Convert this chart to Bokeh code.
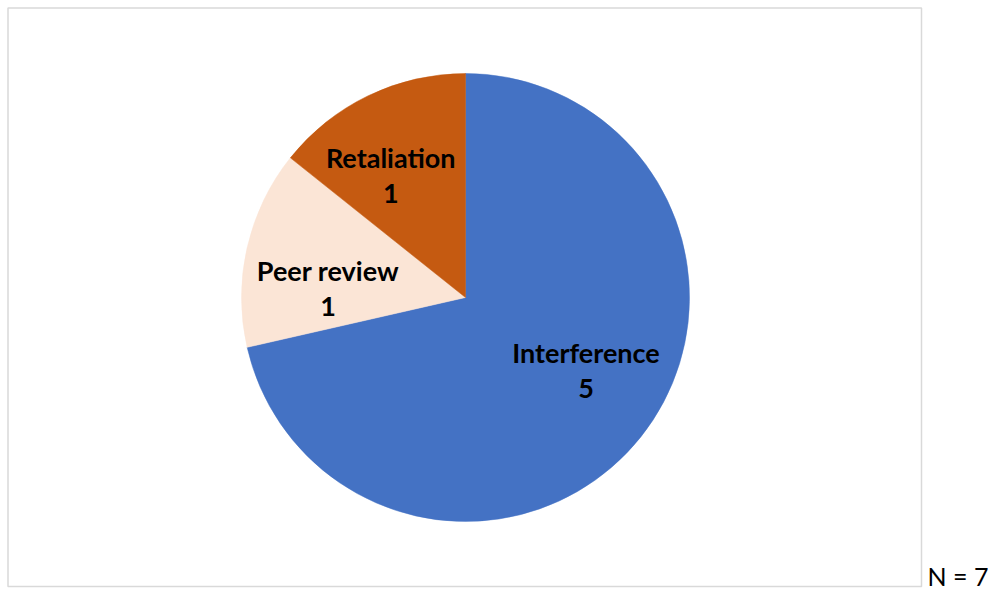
import math
from bokeh.plotting import figure
from bokeh.models import Range1d, ColumnDataSource
from bokeh.core.properties import value
from bokeh.embed import file_html
from bokeh.resources import INLINE

# ---- data ----
categories = ["Interference", "Peer review", "Retaliation"]
counts = [5, 1, 1]
colors = ["#4472C4", "#FBE5D6", "#C55A11"]
note = "N = 7"

# ---- layout (page pixel coordinates) ----
W, H = 993, 591
def Y(py):
    return H - py

cx, cy, R = 465, Y(297), 224
label_r = 140
label_shift = [(11, 14), (-1, -22), (-14, -4)]  # (dx, dy up) per slice

total = sum(counts)
starts, ends, mids = [], [], []
cum = 0.0
for c in counts:
    a0 = math.pi / 2 - 2 * math.pi * (cum + c) / total
    a1 = math.pi / 2 - 2 * math.pi * cum / total
    starts.append(a0)
    ends.append(a1)
    mids.append((a0 + a1) / 2)
    cum += c

lx = [cx + label_r * math.cos(m) + d[0] for m, d in zip(mids, label_shift)]
ly = [cy + label_r * math.sin(m) + d[1] for m, d in zip(mids, label_shift)]

p = figure(width=W, height=H, output_backend="svg", toolbar_location=None,
           x_range=Range1d(0, W), y_range=Range1d(0, H),
           min_border=0)
p.axis.visible = False
p.grid.visible = False
p.outline_line_color = None
p.background_fill_color = "white"
p.border_fill_color = "white"

# chart box
p.quad(left=[7.5], right=[921], top=[Y(7.5)], bottom=[Y(586)],
       fill_color=None, line_color="#D9D9D9", line_width=1.5)

src = ColumnDataSource(dict(cat=categories, n=counts, color=colors,
                            start=starts, end=ends,
                            lx=lx, ly1=[v + 18 for v in ly], ly2=[v - 18 for v in ly],
                            val=[str(c) for c in counts]))
p.wedge(x=cx, y=cy, radius=R, start_angle="start", end_angle="end",
        direction="anticlock", fill_color="color", line_color="color",
        line_width=0.5, source=src)

font = value("Lato")
p.text(x="lx", y="ly1", text="cat", source=src, text_font=font,
       text_font_style="bold", text_font_size="27px", text_align="center",
       text_baseline="middle", text_color="black")
p.text(x="lx", y="ly2", text="val", source=src, text_font=font,
       text_font_style="bold", text_font_size="27px", text_align="center",
       text_baseline="middle", text_color="black")

p.text(x=[927], y=[Y(590)], text=[note], text_font=font,
       text_font_size="25px", text_align="left", text_baseline="bottom",
       text_color="black")

open("out.html", "w").write(file_html(p, INLINE))
